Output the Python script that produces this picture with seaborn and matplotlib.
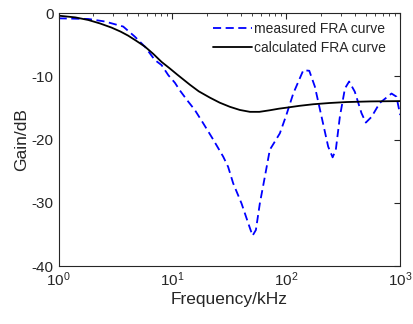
import numpy as np
import pandas as pd
import matplotlib
matplotlib.use("Agg")
import matplotlib.pyplot as plt
import seaborn as sns

# measured FRA curve
meas_f = [1, 1.82, 2.55, 3.69, 4.67, 5.73, 7.0, 8.02, 9.19, 10.5, 11.6, 13.5, 15.7, 18.6,
          22.8, 27.9, 30.8, 34.1, 40.4, 46.2, 50.5, 54, 58.5, 64.7, 71.6, 79.3, 87.7,
          100, 115, 141, 159, 178, 204, 233, 255, 272, 295, 327, 356, 399, 457, 499,
          560, 661, 839, 927, 1000]
meas_db = [-0.8, -0.9, -1.3, -2.1, -3.7, -5.3, -7.4, -8.2, -9.8, -11.0, -12.2, -13.8,
           -15.3, -17.4, -20.0, -22.7, -24.3, -26.9, -30.1, -33.2, -35.2, -34.3, -30.1,
           -25.9, -21.6, -20.3, -19.0, -16.1, -12.7, -9.0, -9.1, -11.6, -16.4, -21.1,
           -22.8, -21.6, -16.4, -11.9, -10.8, -12.4, -15.8, -17.3, -16.4, -14.2, -12.7,
           -13.2, -16.1]
# calculated FRA curve
calc_f = [1, 1.4, 1.82, 2.3, 2.92, 3.5, 4.08, 4.8, 5.73, 6.8, 8.02, 9.5, 11.0, 12.4,
          14.2, 17.0, 21.3, 26.0, 31.9, 39.0, 47.9, 58.0, 71.6, 86.0, 104, 130, 172,
          240, 337, 550, 1000]
calc_db = [-0.38, -0.65, -1.06, -1.6, -2.27, -2.9, -3.54, -4.35, -5.28, -6.45, -7.7,
           -8.75, -9.7, -10.45, -11.3, -12.35, -13.35, -14.15, -14.8, -15.3, -15.6,
           -15.6, -15.35, -15.1, -14.9, -14.65, -14.4, -14.2, -14.05, -13.95, -13.9]

labels = ["measured FRA curve", "calculated FRA curve"]

df = pd.concat([
    pd.DataFrame({"f": meas_f, "g": meas_db, "curve": labels[0]}),
    pd.DataFrame({"f": calc_f, "g": calc_db, "curve": labels[1]}),
])

sns.set_theme(style="white")
plt.rcParams["font.family"] = ["Liberation Sans", "DejaVu Sans"]
plt.rcParams["mathtext.fontset"] = "custom"
plt.rcParams["mathtext.rm"] = "Liberation Sans"
plt.rcParams["mathtext.it"] = "Liberation Sans:italic"
plt.rcParams["axes.unicode_minus"] = False

fig = plt.figure(figsize=(4.13, 3.24), dpi=100)
ax = fig.add_axes([0.142, 0.179, 0.827, 0.780])

sns.lineplot(data=df, x="f", y="g", hue="curve", style="curve",
             palette={labels[0]: "#0000ff", labels[1]: "#000000"},
             dashes={labels[0]: (4.5, 2.5), labels[1]: ""},
             linewidth=1.3, sort=False, estimator=None, ax=ax)

ax.set_xscale("log")
ax.set_xlim(1, 1000)
ax.set_ylim(-40, 0)
ax.set_yticks([-40, -30, -20, -10, 0])
ax.set_xlabel("Frequency/kHz", fontsize=12.5, color="#262626", labelpad=2)
ax.set_ylabel("Gain/dB", fontsize=12.5, color="#262626", labelpad=2)
ax.tick_params(which="both", direction="in", top=True, right=True,
               labelsize=11, colors="#262626")
ax.tick_params(which="major", length=4, width=0.8)
ax.tick_params(which="minor", length=2, width=0.6)
for s in ax.spines.values():
    s.set_color("#262626")
    s.set_linewidth(0.8)

leg = ax.legend(frameon=False, loc="upper right", bbox_to_anchor=(0.985, 1.0),
                fontsize=10, handlelength=2.8, handletextpad=0.15,
                borderaxespad=0.25, labelspacing=0.35)
leg.set_title(None)

fig.savefig("out.png", dpi=100)
